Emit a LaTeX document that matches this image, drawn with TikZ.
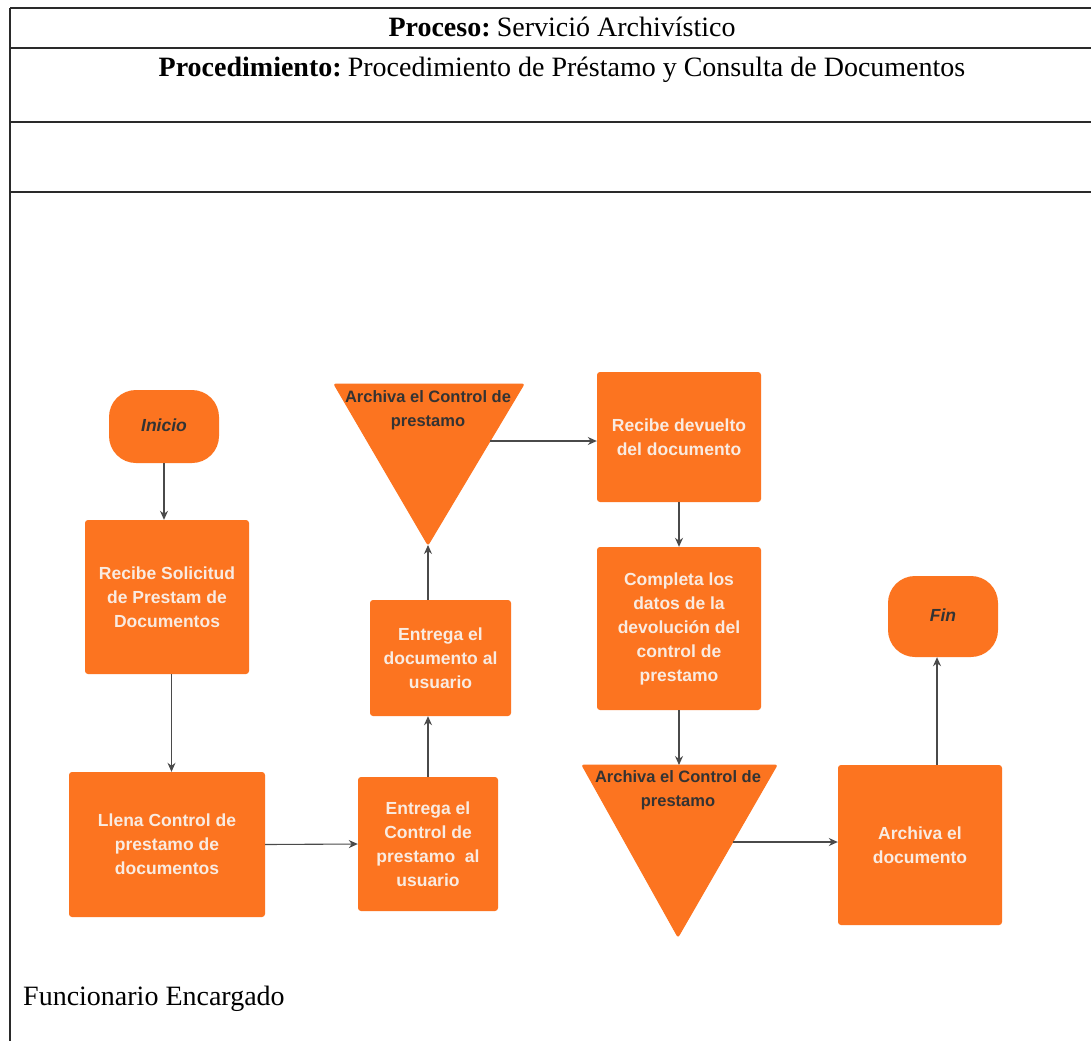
\documentclass[tikz,border=0pt]{standalone}
\usepackage{fontspec}
\setmainfont{Liberation Serif}
\newfontfamily\lsans{Liberation Sans}
\usetikzlibrary{arrows.meta}
\definecolor{org}{HTML}{FC7420}
\definecolor{boxtxt}{HTML}{F9EBE1}
\definecolor{darktxt}{HTML}{333333}
\definecolor{rule}{HTML}{2A2A2A}
\definecolor{conn}{HTML}{4A4A4A}
\tikzset{
  procbox/.style={fill=org, draw=none, rounded corners=3pt, align=center, text=boxtxt,
    font=\lsans\bfseries\fontsize{17.5}{24}\selectfont, inner sep=0pt},
  termbox/.style={fill=org, draw=none, rounded corners=27pt, align=center, text=darktxt,
    font=\lsans\bfseries\itshape\fontsize{17.5}{24}\selectfont, inner sep=0pt},
  trilabel/.style={align=center, text=darktxt, font=\lsans\bfseries\fontsize{16.5}{24}\selectfont, inner sep=0pt},
  trifill/.style={fill=org, draw=org, line width=1pt, rounded corners=2pt},
  conn/.style={draw=conn, line width=1.1pt, -{Stealth[length=9pt,width=8pt]}},
  tablerule/.style={draw=rule, line width=1.4pt},
  headtxt/.style={font=\fontsize{28}{32}\selectfont, text=black, inner sep=0pt}
}
\begin{document}
\begin{tikzpicture}[x=1pt,y=-1pt]
\useasboundingbox (0,0) rectangle (1091,1041);
\fill[white] (0,0) rectangle (1091,1041);
% table
\draw[tablerule] (10,8) -- (1091,8);
\draw[tablerule] (10,48) -- (1091,48);
\draw[tablerule] (10,122) -- (1091,122);
\draw[tablerule] (10,192) -- (1091,192);
\draw[tablerule] (10,8) -- (10,1041);
\node[headtxt] (proc) at (562,27) {\textbf{Proceso:}\hspace{0.22em}Servició Archivístico};
\node[headtxt] (procd) at (562,70) {\textbf{Procedimiento:}\hspace{0.22em}Procedimiento de Préstamo y Consulta de Documentos};
\node[headtxt, anchor=west] (func) at (23,999) {Funcionario Encargado};
% triangles
\coordinate (t1l) at (334,384);
\coordinate (t1r) at (524,384);
\coordinate (t1apex) at (428,545);
\coordinate (t1side) at (490,441);
\fill[trifill] (t1l) -- (t1r) -- (t1apex) -- cycle;
\node[trilabel] (t1) at (428,410) {Archiva el Control de\\prestamo};
\coordinate (t2l) at (582,765);
\coordinate (t2r) at (777,765);
\coordinate (t2apex) at (678,937);
\coordinate (t2top) at (679,765);
\coordinate (t2side) at (733,842);
\fill[trifill] (t2l) -- (t2r) -- (t2apex) -- cycle;
\node[trilabel] (t2) at (678,790) {Archiva el Control de\\prestamo};
% nodes
\node[termbox, minimum width=110pt, minimum height=73pt] (inicio) at (164,426.5) {\raisebox{2pt}{Inicio}};
\node[procbox, minimum width=164pt, minimum height=154pt] (recibe) at (167,597) {Recibe Solicitud\\de Prestam de\\Documentos};
\node[procbox, minimum width=196pt, minimum height=145pt] (llena) at (167,844.5) {Llena Control de\\prestamo de\\documentos};
\node[procbox, minimum width=140pt, minimum height=134pt] (entc) at (428,844) {Entrega el\\Control de\\prestamo\ \ al\\usuario};
\node[procbox, minimum width=141pt, minimum height=116pt] (entd) at (440.5,658) {Entrega el\\documento al\\usuario};
\node[procbox, minimum width=164pt, minimum height=130pt] (recdev) at (679,437) {Recibe devuelto\\del documento};
\node[procbox, minimum width=164pt, minimum height=163pt] (compl) at (679,628.5) {Completa los\\datos de la\\devolución del\\control de\\prestamo};
\node[procbox, minimum width=164pt, minimum height=160pt] (archdoc) at (920,845) {Archiva el\\documento};
\node[termbox, minimum width=110pt, minimum height=81pt] (fin) at (943,616.5) {\raisebox{2pt}{Fin}};
% connectors
\draw[conn] (inicio.south) -- (inicio.south |- recibe.north);
\draw[conn] ([xshift=4.5pt]recibe.south) -- ([xshift=4.5pt]llena.north);
\draw[conn] (llena.east) -- (entc.west);
\draw[conn] (entc.north) -- (entc.north |- entd.south);
\draw[conn] (entc.north |- entd.north) -- (t1apex);
\draw[conn] (t1side) -- (t1side -| recdev.west);
\draw[conn] (recdev.south) -- (compl.north);
\draw[conn] (compl.south) -- (t2top);
\draw[conn] (t2side) -- (t2side -| archdoc.west);
\draw[conn] ([xshift=17pt]archdoc.north) -- ([xshift=17pt]archdoc.north |- fin.south);
\end{tikzpicture}
\end{document}
